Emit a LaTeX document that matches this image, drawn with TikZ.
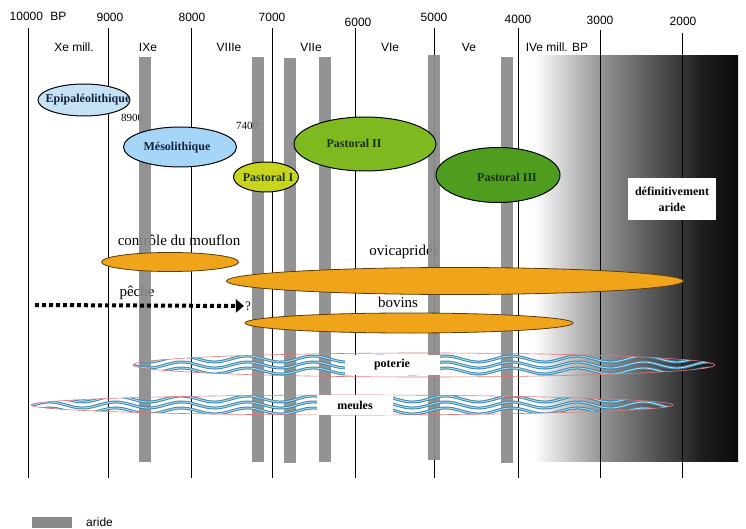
\documentclass[tikz,border=0pt]{standalone}
\usepackage{fontspec}
\setmainfont{Liberation Serif}
\setsansfont{Liberation Sans}
\usepackage{tikz}
\usetikzlibrary{shapes.geometric}
\usetikzlibrary{arrows.meta}
\definecolor{aridgray}{HTML}{8A8A8A}
\definecolor{epiblue}{HTML}{C6E2F6}
\definecolor{mesoblue}{HTML}{A6D6F7}
\definecolor{pastI}{HTML}{C9D51C}
\definecolor{pastII}{HTML}{7DB91F}
\definecolor{pastIII}{HTML}{4F9D1F}
\definecolor{herdorange}{HTML}{F0A41A}
\definecolor{herdedge}{HTML}{5A3A08}
\definecolor{wavedark}{HTML}{3A88AE}
\definecolor{wavelight}{HTML}{B6DCEB}
\definecolor{bandred}{HTML}{E07878}
\definecolor{pastext}{HTML}{18300C}
\definecolor{bluetext}{HTML}{14203C}
\newcommand{\aridbar}[3]{
  \fill[aridgray, fill opacity=0.92] (#1,#2) rectangle (#1+12,#3);
}
\newcommand{\bande}[4]{
  \begin{scope}
    \clip (#1,#2) ellipse [x radius=#3pt, y radius=#4pt];
    \foreach \o in {-6,0,6} {
      \draw[waveline] plot[domain=0:746, samples=220, smooth] (\x, {#2+\o+3*sin(\x/66*360)});
    }
  \end{scope}
  \draw[bandedge] (#1,#2) ellipse [x radius=#3pt, y radius=#4pt];
}
\tikzset{
  tline/.style={black, line width=0.6pt},
  yearlab/.style={font=\sffamily\fontsize{12}{14}\selectfont, inner sep=0pt},
  numlab/.style={font=\fontsize{11}{13}\selectfont, inner sep=0pt},
  phase/.style={ellipse, draw=black, line width=1pt, inner sep=0pt},
  phaselab/.style={font=\bfseries\fontsize{12}{14}\selectfont, inner sep=0pt},
  herd/.style={ellipse, draw=herdedge, line width=0.8pt, fill=herdorange, inner sep=0pt},
  herdlab/.style={font=\fontsize{15}{17}\selectfont, inner sep=0pt},
  waveline/.style={draw=wavedark, line width=1pt, double=wavelight, double distance=0.9pt},
  bandedge/.style={draw=bandred, line width=0.6pt},
  bandlab/.style={fill=white, font=\bfseries\fontsize{12}{14}\selectfont, inner sep=0pt},
  fishline/.style={line width=4pt, dash pattern=on 4pt off 3pt, -{Triangle[length=8pt, width=13pt]}},
}

\begin{document}
\begin{tikzpicture}[x=1pt, y=-1pt]
  \useasboundingbox (0,0) rectangle (746,529);
  % arid gradient
  \shade[left color=white, right color=black!42] (534,56) rectangle (601,461);
  \shade[left color=black!42, right color=black!88] (600,56) rectangle (701,461);
  \shade[left color=black!88, right color=black!96] (700,56) rectangle (738,461);
  % time axis
  \foreach \k/\x/\t in {10/28/28,9/108/28,8/191/28,7/272/28,6/355/28,5/434/28,4/518/28,3/600/30,2/682/33} {
    \coordinate (top\k) at (\x,\t);
    \coordinate (bot\k) at (\x,478);
    \draw[tline] (top\k) -- (bot\k);
  }
  \node[yearlab] (yr10) at (38,16) {10000\hspace{0.6em}BP};
  \foreach \k/\x/\y in {9/110/17,8/192/17,7/272/17,6/358/22,5/434/17,4/518/19,3/600/20,2/683/21} {
    \node[yearlab] (yr\k) at (\x,\y) {\k000};
  }
  \foreach \k/\x/\t in {10/74/Xe mill.,9/148/IXe,8/229/VIIIe,7/311/VIIe,6/390/VIe,5/469/Ve,4/557/IVe mill. BP} {
    \node[yearlab] (mil\k) at (\x,47) {\t};
  }
  \node[numlab] (d8900) at (132,118) {8900};
  \node[numlab] (d7400) at (247,126) {7400};
  % herd labels
  \node[herdlab] (mouflonlab) at (179,240) {contrôle du mouflon};
  \node[herdlab] (ovilab) at (404,252) {ovicapridés};
  \node[herdlab] (bovlab) at (398,302) {bovins};
  \node[herdlab] (pechelab) at (137,293) {pêche};
  % arid phases
  \aridbar{139}{57}{462}
  \aridbar{252}{57}{462}
  \aridbar{284}{58}{463}
  \aridbar{319}{57}{462}
  \aridbar{428}{55}{460}
  \aridbar{501}{57}{463}
  % cultural phases
  \node[phase, fill=epiblue, minimum width=92pt, minimum height=32pt] (epi) at (84,100) {};
  \node[phaselab, text=bluetext] at (88,100) {Epipaléolithique};
  \node[phase, fill=mesoblue, minimum width=113pt, minimum height=40pt] (meso) at (180,147) {};
  \node[phaselab, text=bluetext] at (177,148) {Mésolithique};
  \node[phase, fill=pastI, minimum width=65pt, minimum height=30pt] (pasI) at (266,177) {};
  \node[phaselab, text=pastext] at (268,177) {Pastoral I};
  \node[phase, fill=pastII, minimum width=142pt, minimum height=54pt] (pasII) at (365,144) {};
  \node[phaselab, text=pastext] at (354,143) {Pastoral II};
  \node[phase, fill=pastIII, minimum width=124pt, minimum height=55pt] (pasIII) at (498,175) {};
  \node[phaselab, text=pastext] at (507,177) {Pastoral III};
  % herds
  \node[herd, minimum width=137pt, minimum height=19pt] (mouflon) at (170,262) {};
  \node[herd, minimum width=457pt, minimum height=27pt] (ovi) at (455,281) {};
  \node[herd, minimum width=328pt, minimum height=20pt] (bov) at (409,323) {};
  % fishing
  \coordinate (pechestart) at (35,305);
  \node[numlab, font=\fontsize{13}{15}\selectfont, inner sep=1pt] (q) at (248,306) {?};
  \draw[fishline] (pechestart) -- (q.west);
  % pottery and grinding stones
  \bande{424}{365}{291}{12}
  \node[bandlab, minimum width=95pt, minimum height=20pt] (poterie) at (392,365) {poterie};
  \bande{352}{405}{321}{10}
  \node[bandlab, minimum width=76pt, minimum height=20pt] (meules) at (355,405) {meules};
  % final aridity
  \node[fill=white, align=center, minimum width=88pt, minimum height=42pt, inner sep=0pt,
        font=\bfseries\fontsize{12}{16}\selectfont] (defaride) at (672,199) {définitivement\\aride};
  % legend
  \fill[aridgray] (32,517) rectangle (72,528);
  \node[yearlab, anchor=west] (legaride) at (86,522) {aride};
\end{tikzpicture}
\end{document}
